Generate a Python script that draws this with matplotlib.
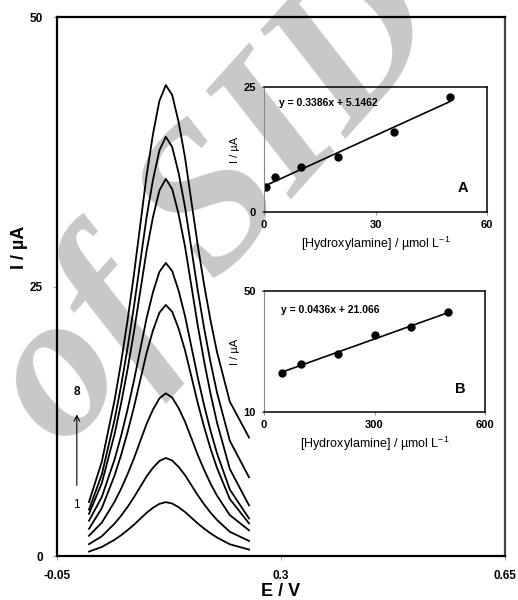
import numpy as np
import matplotlib
matplotlib.use('Agg')
import matplotlib.pyplot as plt

plt.rcParams['font.family'] = ['Liberation Sans', 'DejaVu Sans']
plt.rcParams['mathtext.fontset'] = 'custom'
plt.rcParams['mathtext.rm'] = 'Liberation Sans'

# potential grid (V) for the voltammograms
E = [0.00, 0.02, 0.04, 0.05, 0.06, 0.07, 0.08, 0.09, 0.10, 0.11, 0.12,
     0.13, 0.14, 0.15, 0.16, 0.17, 0.18, 0.19, 0.20, 0.22, 0.25]

# currents (uA), curve 1 (lowest) to curve 8 (highest)
c1 = [0.41, 0.84, 1.51, 1.92, 2.39, 2.89, 3.45, 4.01, 4.48, 4.84, 5.00,
      4.87, 4.53, 4.09, 3.55, 3.02, 2.54, 2.10, 1.72, 1.09, 0.60]
c2 = [1.10, 1.83, 3.01, 3.72, 4.53, 5.43, 6.41, 7.39, 8.19, 8.82, 9.10,
      8.86, 8.27, 7.51, 6.57, 5.64, 4.79, 4.02, 3.35, 2.25, 1.40]
c3 = [1.88, 3.10, 5.04, 6.22, 7.56, 9.02, 10.65, 12.26, 13.59, 14.63, 15.10,
      14.70, 13.73, 12.47, 10.93, 9.37, 7.98, 6.71, 5.60, 3.80, 2.39]
c4 = [2.52, 4.44, 7.48, 9.34, 11.44, 13.75, 16.30, 18.85, 20.94, 22.58, 23.30,
      22.67, 21.11, 19.10, 16.65, 14.18, 11.95, 9.94, 8.17, 5.29, 3.03]
c5 = [3.28, 5.47, 8.97, 11.11, 13.53, 16.20, 19.14, 22.07, 24.49, 26.37, 27.20,
      26.44, 24.63, 22.28, 19.42, 16.55, 13.95, 11.60, 9.53, 6.17, 3.49]
c6 = [3.91, 6.76, 11.32, 14.11, 17.24, 20.71, 24.53, 28.33, 31.47, 33.92, 35.00,
      34.05, 31.73, 28.73, 25.06, 21.37, 18.03, 15.03, 12.38, 8.08, 4.70]
c7 = [4.31, 7.56, 12.66, 15.75, 19.22, 23.05, 27.25, 31.45, 34.92, 37.64, 38.90,
      37.96, 35.55, 32.39, 28.51, 24.62, 21.10, 17.95, 15.17, 10.70, 7.31]
c8 = [5.01, 8.74, 14.46, 17.92, 21.77, 26.02, 30.67, 35.32, 39.17, 42.23, 43.70,
      42.78, 40.28, 36.99, 32.90, 28.81, 25.12, 21.83, 18.93, 14.33, 11.00]
curves = [c1, c2, c3, c4, c5, c6, c7, c8]

# inset A: low concentration range
conc_a = [0.5, 3, 10, 20, 35, 50]
cur_a = [4.9, 7.0, 9.0, 10.9, 16.0, 22.9]
slope_a, icpt_a = 0.3386, 5.1462

# inset B: high concentration range
conc_b = [50, 100, 200, 300, 400, 500]
cur_b = [23.0, 25.9, 29.1, 35.3, 38.2, 43.1]
slope_b, icpt_b = 0.0436, 21.066

fig = plt.figure(figsize=(5.18, 6.0), dpi=100, facecolor='white')

# faint watermark behind everything
fig.text(0.42, 0.66, 'of SID', fontsize=150, color='#c8c8c8', rotation=48,
         family='Liberation Serif', style='italic', weight='bold',
         ha='center', va='center', zorder=-5)

ax = fig.add_axes([0.110, 0.0733, 0.865, 0.898])
ax.patch.set_alpha(0)
for c in curves:
    ax.plot(E, c, color='black', lw=1.3)
ax.set_xlim(-0.05, 0.65)
ax.set_ylim(0, 50)
ax.set_xticks([-0.05, 0.3, 0.65])
ax.set_xticklabels(['-0.05', '0.3', '0.65'])
ax.set_yticks([0, 25, 50])
ax.tick_params(labelsize=8.5, length=3, color='#aaaaaa', pad=7)
for lab in ax.get_xticklabels() + ax.get_yticklabels():
    lab.set_fontweight('bold')
for s in ['top', 'left', 'bottom']:
    ax.spines[s].set_linewidth(1.6)
ax.spines['right'].set_linewidth(1.6)
ax.spines['right'].set_color('#444444')
ax.set_xlabel('E / V', fontsize=13, fontweight='bold', labelpad=1)
ax.set_ylabel('I / µA', fontsize=13, fontweight='bold')
ax.yaxis.set_label_coords(-0.065, 0.573)

ax.annotate('', xy=(-0.019, 13.4), xytext=(-0.019, 6.3),
            arrowprops=dict(arrowstyle='->', lw=0.8, color='black'))
ax.text(-0.019, 15.2, '8', fontsize=8.5, fontweight='bold', ha='center', va='center')
ax.text(-0.019, 4.7, '1', fontsize=8.5, ha='center', va='center')


def inset(rect, xs, ys, slope, icpt, xlim, ylim, xt, yt, eq, tag, eq_pos):
    a = fig.add_axes(rect)
    a.patch.set_alpha(0)
    xfit = np.array([xs[0], xs[-1]])
    a.plot(xfit, slope * xfit + icpt, color='black', lw=1.2)
    a.plot(xs, ys, 'o', color='black', ms=5)
    a.set_xlim(*xlim)
    a.set_ylim(*ylim)
    a.set_xticks(xt)
    a.set_yticks(yt)
    a.tick_params(labelsize=8, length=2, color='#999999', pad=4)
    for lab in a.get_xticklabels() + a.get_yticklabels():
        lab.set_fontweight('bold')
    for s in ['top', 'right', 'bottom']:
        a.spines[s].set_linewidth(1.1)
    a.spines['left'].set_color('#888888')
    a.spines['left'].set_linewidth(0.8)
    a.set_xlabel('[Hydroxylamine] / µmol L$^{-1}$', fontsize=9, labelpad=3)
    a.set_ylabel('I / µA', fontsize=8, labelpad=2)
    a.text(eq_pos[0], eq_pos[1], eq, transform=a.transAxes, fontsize=7.5,
           fontweight='bold', ha='left', va='center')
    a.text(0.89, 0.19, tag, transform=a.transAxes, fontsize=10.5,
           fontweight='bold', ha='center', va='center')
    return a


inset([0.5097, 0.6467, 0.4305, 0.2083], conc_a, cur_a, slope_a, icpt_a,
      (0, 60), (0, 25), [0, 30, 60], [0, 25],
      'y = 0.3386x + 5.1462', 'A', (0.065, 0.87))
inset([0.5097, 0.3133, 0.4266, 0.2017], conc_b, cur_b, slope_b, icpt_b,
      (0, 600), (10, 50), [0, 300, 600], [10, 50],
      'y = 0.0436x + 21.066', 'B', (0.075, 0.845))

fig.savefig('out.png', dpi=100)
